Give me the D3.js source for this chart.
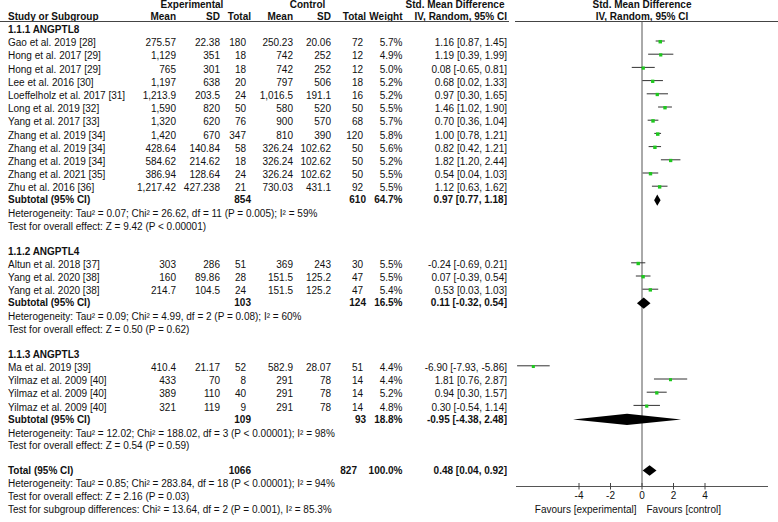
<!DOCTYPE html>
<html>
<head>
<meta charset="utf-8">
<script src="https://cdn.jsdelivr.net/npm/d3@7"></script>
<style>
html,body{margin:0;padding:0;background:#fff;}
svg{display:block;font-family:"Liberation Sans",Arial,Helvetica,sans-serif;}
</style>
</head>
<body>
<script>
// ---------- data ----------
const groupLabels = ["1.1.1 ANGPTL8", "1.1.2 ANGPTL4", "1.1.3 ANGPTL3"];
const studyNames = [
  "Gao et al. 2019 [28]", "Hong et al. 2017 [29]", "Hong et al. 2017 [29]", "Lee et al. 2016 [30]",
  "Loeffelholz et al. 2017 [31]", "Long et al. 2019 [32]", "Yang et al. 2017 [33]", "Zhang et al. 2019 [34]",
  "Zhang et al. 2019 [34]", "Zhang et al. 2019 [34]", "Zhang et al. 2021 [35]", "Zhu et al. 2016 [36]",
  "Altun et al. 2018 [37]", "Yang et al. 2020 [38]", "Yang et al. 2020 [38]",
  "Ma et al. 2019 [39]", "Yilmaz et al. 2009 [40]", "Yilmaz et al. 2009 [40]", "Yilmaz et al. 2009 [40]"
];
const studyGroup = [0,0,0,0,0,0,0,0,0,0,0,0, 1,1,1, 2,2,2,2];
const expMean = [275.57, 1129, 765, 1197, 1213.9, 1590, 1320, 1420, 428.64, 584.62, 386.94, 1217.42, 303, 160, 214.7, 410.4, 433, 389, 321];
const expSD = [22.38, 351, 301, 638, 203.5, 820, 620, 670, 140.84, 214.62, 128.64, 427.238, 286, 89.86, 104.5, 21.17, 70, 110, 119];
const expN = [180, 18, 18, 20, 24, 50, 76, 347, 58, 18, 24, 21, 51, 28, 24, 52, 8, 40, 9];
const ctrlMean = [250.23, 742, 742, 797, 1016.5, 580, 900, 810, 326.24, 326.24, 326.24, 730.03, 369, 151.5, 151.5, 582.9, 291, 291, 291];
const ctrlSD = [20.06, 252, 252, 506, 191.1, 520, 570, 390, 102.62, 102.62, 102.62, 431.1, 243, 125.2, 125.2, 28.07, 78, 78, 78];
const ctrlN = [72, 12, 12, 18, 16, 50, 68, 120, 50, 50, 50, 92, 30, 47, 47, 51, 14, 14, 14];
const weights = [5.7, 4.9, 5.0, 5.2, 5.2, 5.5, 5.7, 5.8, 5.6, 5.2, 5.5, 5.5, 5.5, 5.5, 5.4, 4.4, 4.4, 5.2, 4.8];
const smd = [1.16, 1.19, 0.08, 0.68, 0.97, 1.46, 0.70, 1.00, 0.82, 1.82, 0.54, 1.12, -0.24, 0.07, 0.53, -6.90, 1.81, 0.94, 0.30];
const ciLow = [0.87, 0.39, -0.65, 0.02, 0.30, 1.02, 0.36, 0.78, 0.42, 1.20, 0.04, 0.63, -0.69, -0.39, 0.03, -7.93, 0.76, 0.30, -0.54];
const ciHigh = [1.45, 1.99, 0.81, 1.33, 1.65, 1.90, 1.04, 1.21, 1.21, 2.44, 1.03, 1.62, 0.21, 0.54, 1.03, -5.86, 2.87, 1.57, 1.14];

const subExpN = [854, 103, 109];
const subCtrlN = [610, 124, 93];
const subWeight = [64.7, 16.5, 18.8];
const subSmd = [0.97, 0.11, -0.95];
const subLow = [0.77, -0.32, -4.38];
const subHigh = [1.18, 0.54, 2.48];
const subHet = [
  "Heterogeneity: Tau² = 0.07; Chi² = 26.62, df = 11 (P = 0.005); I² = 59%",
  "Heterogeneity: Tau² = 0.09; Chi² = 4.99, df = 2 (P = 0.08); I² = 60%",
  "Heterogeneity: Tau² = 12.02; Chi² = 188.02, df = 3 (P < 0.00001); I² = 98%"
];
const subTest = [
  "Test for overall effect: Z = 9.42 (P < 0.00001)",
  "Test for overall effect: Z = 0.50 (P = 0.62)",
  "Test for overall effect: Z = 0.54 (P = 0.59)"
];
const totalExpN = 1066, totalCtrlN = 827, totalWeight = 100.0;
const totalSmd = 0.48, totalLow = 0.04, totalHigh = 0.92;
const totalNotes = [
  "Heterogeneity: Tau² = 0.85; Chi² = 283.84, df = 18 (P < 0.00001); I² = 94%",
  "Test for overall effect: Z = 2.16 (P = 0.03)",
  "Test for subgroup differences: Chi² = 13.64, df = 2 (P = 0.001), I² = 85.3%"
];
const axisTicks = [-4, -2, 0, 2, 4];
const axisDomain = [-8, 8];

// ---------- setup ----------
const W = 778, H = 522;
const svg = d3.select("body").append("svg").attr("width", W).attr("height", H);
const loc = d3.formatLocale({decimal: ".", thousands: ",", grouping: [3], currency: ["", ""], minus: "-"});
const fNum = loc.format(",");
const f2 = loc.format(".2f");
const f1 = loc.format(".1f");
const ciText = (m, l, h) => `${f2(m)} [${f2(l)}, ${f2(h)}]`;

const x = d3.scaleLinear().domain(axisDomain).range([516, 768]);
const FS = 10, TXT = "#111";

// columns (right edges)
const col = {name: 8, eMean: 176, eSD: 220, eN: 246, cMean: 293, cSD: 331, cN: 363, w: 402.5, ci: 507};
const colB = {eN: 251, cN: 366};

// ---------- row layout ----------
const rows = [];
let y = 29.3;
groupLabels.forEach((g, gi) => {
  if (gi > 0) y += 24.8;
  rows.push({type: "group", y, g: gi});
  studyNames.forEach((s, i) => {
    if (studyGroup[i] === gi) { y += 13.2; rows.push({type: "study", y, i}); }
  });
  y += 12; rows.push({type: "sub", y, g: gi});
  y += 14; rows.push({type: "note", y, text: subHet[gi]});
  y += 12.6; rows.push({type: "note", y, text: subTest[gi]});
});
y += 25; rows.push({type: "total", y});
totalNotes.forEach(t => { y += 12.9; rows.push({type: "note", y, text: t}); });

function txt(xp, yp, s, anchor, bold) {
  svg.append("text").attr("x", xp).attr("y", yp + 3.6).attr("text-anchor", anchor || "start")
    .attr("font-size", FS).attr("font-weight", bold ? "bold" : "normal").attr("fill", TXT).text(s);
}

// ---------- header ----------
txt(192, 4.3, "Experimental", "middle", true);
txt(307.5, 4.3, "Control", "middle", true);
txt(455, 4.3, "Std. Mean Difference", "middle", true);
txt(x(0), 4.3, "Std. Mean Difference", "middle", true);
const hy = 16.6;
txt(col.name, hy, "Study or Subgroup", "start", true);
txt(col.eMean, hy, "Mean", "end", true);
txt(col.eSD, hy, "SD", "end", true);
txt(colB.eN, hy, "Total", "end", true);
txt(col.cMean, hy, "Mean", "end", true);
txt(col.cSD, hy, "SD", "end", true);
txt(colB.cN, hy, "Total", "end", true);
txt(col.w, hy, "Weight", "end", true);
txt(col.ci, hy, "IV, Random, 95% CI", "end", true);
txt(x(0), hy, "IV, Random, 95% CI", "middle", true);
svg.append("line").attr("x1", 0).attr("x2", 509).attr("y1", 21.5).attr("y2", 21.5).attr("stroke", "#444").attr("stroke-width", 1);
svg.append("line").attr("x1", 515).attr("x2", W).attr("y1", 21.5).attr("y2", 21.5).attr("stroke", "#444").attr("stroke-width", 1);

// ---------- axis & zero line ----------
const axisY = 486.5;
svg.append("line").attr("x1", x(0)).attr("x2", x(0)).attr("y1", 21.5).attr("y2", axisY)
  .attr("stroke", "#555").attr("stroke-width", 1);
const axisG = svg.append("g").attr("transform", `translate(0,${axisY})`);
axisG.append("line").attr("x1", x.range()[0]).attr("x2", x.range()[1]).attr("stroke", "#555");
axisTicks.forEach(t => {
  axisG.append("line").attr("x1", x(t)).attr("x2", x(t)).attr("y1", -3.5).attr("y2", 3).attr("stroke", "#444");
  axisG.append("text").attr("x", x(t)).attr("y", 12.5).attr("text-anchor", "middle")
    .attr("font-size", FS).attr("fill", TXT).text(loc.format("d")(t));
});
txt(x(0) - 5.5, 509, "Favours [experimental]", "end", false);
txt(x(0) + 4.5, 509, "Favours [control]", "start", false);

// ---------- rows ----------
function diamond(yc, m, l, h, hh) {
  const pts = [[x(l), yc], [x(m), yc - hh], [x(h), yc], [x(m), yc + hh]];
  svg.append("path").attr("d", "M" + pts.map(p => p.join(",")).join("L") + "Z").attr("fill", "#000");
}

rows.forEach(r => {
  if (r.type === "group") {
    txt(col.name, r.y, groupLabels[r.g], "start", true);
  } else if (r.type === "study") {
    const i = r.i;
    txt(col.name, r.y, studyNames[i]);
    txt(col.eMean, r.y, fNum(expMean[i]), "end");
    txt(col.eSD, r.y, fNum(expSD[i]), "end");
    txt(col.eN, r.y, fNum(expN[i]), "end");
    txt(col.cMean, r.y, fNum(ctrlMean[i]), "end");
    txt(col.cSD, r.y, fNum(ctrlSD[i]), "end");
    txt(col.cN, r.y, fNum(ctrlN[i]), "end");
    txt(col.w, r.y, f1(weights[i]) + "%", "end");
    txt(col.ci, r.y, ciText(smd[i], ciLow[i], ciHigh[i]), "end");
    const ly = r.y - 1.5;
    svg.append("line").attr("x1", x(ciLow[i])).attr("x2", x(ciHigh[i])).attr("y1", ly).attr("y2", ly)
      .attr("stroke", "#333").attr("stroke-width", 1);
    const s = Math.sqrt(weights[i]) * 1.45;
    svg.append("rect").attr("x", x(smd[i]) - s / 2).attr("y", ly + 0.7 - s / 2).attr("width", s).attr("height", s)
      .attr("fill", "#1ec81e");
  } else if (r.type === "sub") {
    const g = r.g;
    txt(col.name, r.y, "Subtotal (95% CI)", "start", true);
    txt(colB.eN, r.y, String(subExpN[g]), "end", true);
    txt(colB.cN, r.y, String(subCtrlN[g]), "end", true);
    txt(col.w, r.y, f1(subWeight[g]) + "%", "end", true);
    txt(col.ci, r.y, ciText(subSmd[g], subLow[g], subHigh[g]), "end", true);
    diamond(r.y + 0.5, subSmd[g], subLow[g], subHigh[g], 5.6);
  } else if (r.type === "note") {
    txt(col.name, r.y, r.text);
  } else if (r.type === "total") {
    txt(col.name, r.y, "Total (95% CI)", "start", true);
    txt(colB.eN, r.y, String(totalExpN), "end", true);
    txt(357, r.y, String(totalCtrlN), "end", true);
    txt(col.w, r.y, f1(totalWeight) + "%", "end", true);
    txt(col.ci, r.y, ciText(totalSmd, totalLow, totalHigh), "end", true);
    diamond(r.y, totalSmd, totalLow, totalHigh, 5.2);
  }
});
</script>
</body>
</html>
